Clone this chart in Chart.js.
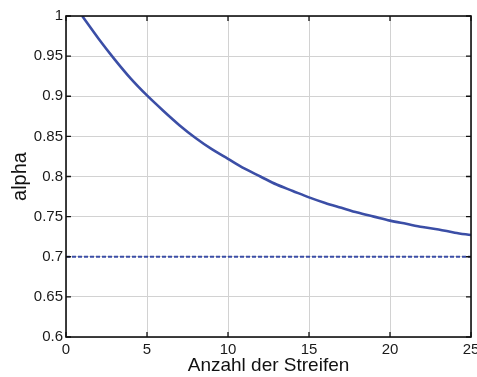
<!DOCTYPE html>
<html><head><meta charset="utf-8">
<script src="https://cdn.jsdelivr.net/npm/chart.js@4.4.0/dist/chart.umd.min.js"></script>
<style>html,body{margin:0;padding:0;background:#fff}#wrap{width:477px;height:377px}</style>
</head><body><div id="wrap"><canvas id="c" width="477" height="377"></canvas></div>
<script>
const stripes = [1,2,3,4,5,6,7,8,9,10,11,12,13,14,15,16,17,18,19,20,21,22,23,24,25];
const alphaValues = [1.000,0.972,0.946,0.922,0.901,0.882,0.864,0.848,0.834,0.822,0.810,0.800,0.790,0.782,0.774,0.767,0.761,0.755,0.750,0.745,0.741,0.737,0.734,0.730,0.727];
const limitX = [0,25];
const limitValues = [0.7,0.7];
const xTicks = [0,5,10,15,20,25];
const yTicks = [0.6,0.65,0.7,0.75,0.8,0.85,0.9,0.95,1];

const frame = {
  id:'frame',
  afterDraw(chart){
    const {ctx, chartArea:a, scales:{x,y}} = chart;
    ctx.save();
    ctx.strokeStyle = '#111';
    ctx.lineWidth = 1.6;
    ctx.strokeRect(a.left, a.top, a.right-a.left, a.bottom-a.top);
    ctx.lineWidth = 1.3;
    const L = 5;
    ctx.beginPath();
    xTicks.forEach(v=>{const px=x.getPixelForValue(v);ctx.moveTo(px,a.bottom);ctx.lineTo(px,a.bottom-L);ctx.moveTo(px,a.top);ctx.lineTo(px,a.top+L);});
    yTicks.forEach(v=>{const py=y.getPixelForValue(v);ctx.moveTo(a.left,py);ctx.lineTo(a.left+L,py);ctx.moveTo(a.right,py);ctx.lineTo(a.right-L,py);});
    ctx.stroke();
    ctx.restore();
  }
};

new Chart(document.getElementById('c'), {
  type:'scatter',
  data:{datasets:[
    {data:stripes.map((s,i)=>({x:s,y:alphaValues[i]})), showLine:true, borderColor:'#3b4ea6', borderWidth:2.6, pointRadius:0, cubicInterpolationMode:'monotone'},
    {data:limitX.map((s,i)=>({x:s,y:limitValues[i]})), showLine:true, borderColor:'#3b4ea6', borderWidth:2.2, borderDash:[4,2], pointRadius:0}
  ]},
  plugins:[frame],
  options:{
    responsive:false, animation:false, devicePixelRatio:1,
    layout:{padding:{left:0,right:6,top:16,bottom:0}},
    plugins:{legend:{display:false}, tooltip:{enabled:false}},
    scales:{
      x:{type:'linear', min:0, max:25, afterBuildTicks(s){s.ticks=xTicks.map(v=>({value:v}));},
        afterFit(s){s.height=40; s.paddingLeft=0; s.paddingRight=0;},
        grid:{color:'#d2d2d2', lineWidth:1, drawTicks:false},
        border:{display:false},
        ticks:{padding:4, color:'#1a1a1a', font:{family:'Liberation Sans, Arial', size:15}, maxRotation:0, autoSkip:false},
        title:{display:true, text:'Anzahl der Streifen', color:'#111', font:{family:'Liberation Sans, Arial', size:19}, padding:{top:-3,bottom:0}}
      },
      y:{type:'linear', min:0.6, max:1, afterBuildTicks(s){s.ticks=yTicks.map(v=>({value:v}));},
        afterFit(s){s.width=66; s.paddingTop=0; s.paddingBottom=0;},
        grid:{color:'#d2d2d2', lineWidth:1, drawTicks:false},
        border:{display:false},
        ticks:{padding:3, color:'#1a1a1a', font:{family:'Liberation Sans, Arial', size:15}, autoSkip:false, callback:v=>String(Math.round(v*100)/100)},
        title:{display:true, text:'alpha', color:'#111', font:{family:'Liberation Sans, Arial', size:20}, padding:{top:8,bottom:0}}
      }
    }
  }
});
</script></body></html>
